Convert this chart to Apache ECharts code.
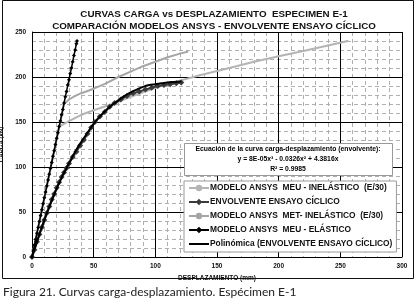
<!DOCTYPE html>
<html>
<head>
<meta charset="utf-8">
<script src="https://cdn.jsdelivr.net/npm/echarts@6/dist/echarts.min.js"></script>
<style>
  html, body { margin: 0; padding: 0; background: #fff; }
  #chart { width: 418px; height: 307px; }
</style>
</head>
<body>
<div id="chart"></div>
<script>
// datos (desplazamiento mm, carga kN)
const meuInelastico = [[0, 0], [22, 145], [30, 151], [40, 158], [50, 163], [65, 170], [80, 178], [100, 188], [120, 196], [136, 202], [160, 210], [180, 217], [200, 223], [220, 229], [240, 235], [256, 240]]
const metInelastico = [[0, 0], [26, 170], [30, 175], [35, 179], [40, 182], [50, 187], [60, 193], [70, 200], [80, 206], [90, 212], [100, 217], [110, 222], [120, 226], [126, 228]]
const envolvente = [[0, 0], [2, 8], [4, 17], [6, 25], [8, 33], [10, 41], [12, 49], [14, 56], [16, 64], [18, 70], [20, 77], [22, 83], [24, 89], [26, 94], [28, 99], [30, 104], [33, 111], [36, 117], [39, 124], [42, 130], [45, 137], [48, 144], [51, 150], [55, 156], [59, 161], [63, 167], [67, 171], [72, 175], [77, 179], [82, 182], [87, 184], [92, 186], [97, 188], [102, 190], [107, 191], [112, 192], [117, 193], [121, 194]]
const meuElastico = [[0, 0], [1, 6.6], [2, 13.2], [3, 19.7], [4, 26.3], [5, 32.9], [6, 39.5], [7, 46], [8, 52.6], [9, 59.2], [10, 65.8], [11, 72.3], [12, 79], [13, 85.5], [14, 92], [15, 98.6], [16, 105], [17, 112], [18, 118], [19, 125], [20, 132], [21, 138], [22, 145], [23, 151], [24, 158], [25, 164], [26, 171], [27, 178], [28, 184], [29, 191], [30, 197], [31, 204], [32, 210], [33, 217], [34, 224], [35, 230], [36, 237], [36.5, 240]]
const polinomica = [[0, 0], [5, 21], [10, 41], [15, 59], [20, 76], [25, 91], [30, 104], [35, 117], [40, 128], [45, 138], [50, 148], [55, 156], [60, 163], [65, 169], [70, 174], [75, 179], [80, 183], [85, 186], [90, 189], [95, 191], [100, 192], [105, 193], [110, 194], [115, 194.5], [121, 195]]
const seriesNames = [
  'MODELO ANSYS  MEU - INELÁSTICO  (E/30)',
  'ENVOLVENTE ENSAYO CÍCLICO',
  'MODELO ANSYS  MET- INELÁSTICO  (E/30)',
  'MODELO ANSYS  MEU - ELÁSTICO',
  'Polinómica (ENVOLVENTE ENSAYO CÍCLICO)'
]
const ecuacion = [
  'Ecuación de la curva carga-desplazamiento (envolvente):',
  'y = 8E-05x³ - 0.0326x² + 4.3816x',
  'R² = 0.9985'
]

const myChart = echarts.init(document.getElementById('chart'))
const font = 'Arial, "Liberation Sans", sans-serif'

// ejes auxiliares solo para la rejilla punteada cada 10
const minorAxis = {
  type: 'value',
  axisLine: { show: false },
  axisTick: { show: false },
  axisLabel: { show: false },
  splitLine: { show: true, lineStyle: { color: '#b0b0b0', width: 1, type: [4, 3] } }
}

const eqText = (txt, y) => ({
  type: 'text',
  x: 288,
  y: y,
  z: 101,
  style: { text: txt, align: 'center', font: 'bold 6.8px Arial', fill: '#000' }
})

myChart.setOption({
  animation: false,
  textStyle: { fontFamily: font },
  title: {
    text: 'CURVAS CARGA vs DESPLAZAMIENTO  ESPECIMEN E-1\nCOMPARACIÓN MODELOS ANSYS - ENVOLVENTE ENSAYO CÍCLICO',
    left: 209,
    top: 3,
    textAlign: 'center',
    textStyle: { fontSize: 9.8, fontWeight: 'bold', color: '#111', lineHeight: 12 }
  },
  grid: { left: 32, right: 16, top: 32, bottom: 50, outerBoundsMode: 'none', containLabel: false },
  legend: {
    orient: 'vertical',
    left: 184,
    top: 181,
    width: 208,
    padding: [3, 4, 4, 4],
    itemGap: 6,
    itemWidth: 20,
    itemHeight: 8,
    backgroundColor: '#fff',
    borderColor: '#999',
    borderWidth: 1,
    data: [
      { name: seriesNames[0] },
      { name: seriesNames[1] },
      { name: seriesNames[2] },
      { name: seriesNames[3] },
      { name: seriesNames[4], itemStyle: { opacity: 0 } }
    ],
    textStyle: { fontSize: 8.4, fontWeight: 'bold', color: '#111', padding: [0, 0, 0, -4] }
  },
  xAxis: [
    {
      type: 'value',
      min: 0,
      max: 300,
      interval: 50,
      name: 'DESPLAZAMIENTO (mm)',
      nameLocation: 'middle',
      nameGap: 17,
      nameTextStyle: { fontSize: 6.5, fontWeight: 'bold', color: '#111' },
      axisLine: { lineStyle: { color: '#000', width: 1 } },
      axisTick: { show: false },
      axisLabel: { fontSize: 6.5, fontWeight: 'bold', color: '#111', margin: 6 },
      splitLine: { lineStyle: { color: '#000', width: 1 } },
      z: 1
    },
    Object.assign({}, minorAxis, { min: 0, max: 300, interval: 10 })
  ],
  yAxis: [
    {
      type: 'value',
      min: 0,
      max: 250,
      interval: 50,
      name: 'CARGA (kN)',
      nameLocation: 'middle',
      nameRotate: 90,
      nameGap: 20,
      nameTextStyle: { fontSize: 6, fontWeight: 'bold', color: '#111' },
      axisLine: { show: true, lineStyle: { color: '#000', width: 1 } },
      axisTick: { show: false },
      axisLabel: { fontSize: 6.5, fontWeight: 'bold', color: '#111', margin: 6 },
      splitLine: { lineStyle: { color: '#000', width: 1 } },
      z: 1
    },
    Object.assign({}, minorAxis, { min: 0, max: 250, interval: 10 })
  ],
  graphic: [
    // marco exterior
    {
      type: 'rect',
      shape: { x: 2.5, y: 0.5, width: 411, height: 278 },
      style: { fill: null, stroke: '#111', lineWidth: 1 },
      silent: true
    },
    // cuadro de la ecuación
    {
      type: 'rect',
      z: 100,
      shape: { x: 184.5, y: 143.5, width: 208, height: 32 },
      style: { fill: '#fff', stroke: '#999', lineWidth: 1 }
    },
    eqText(ecuacion[0], 146),
    eqText(ecuacion[1], 156),
    eqText(ecuacion[2], 166),
    // pie de figura
    {
      type: 'text',
      left: 3,
      top: 286,
      style: { text: 'Figura 21. Curvas carga-desplazamiento. Espécimen E-1', fontSize: 12, fontFamily: 'Lato, sans-serif', fill: '#222' }
    }
  ],
  series: [
    {
      name: seriesNames[0],
      type: 'line',
      data: meuInelastico,
      color: '#b4b4b4',
      lineStyle: { width: 2 },
      symbol: 'circle',
      symbolSize: 2,
      z: 2
    },
    {
      name: seriesNames[1],
      type: 'line',
      data: envolvente,
      color: '#3a3a3a',
      lineStyle: { width: 2 },
      symbol: 'diamond',
      symbolSize: 6,
      z: 4
    },
    {
      name: seriesNames[2],
      type: 'line',
      data: metInelastico,
      color: '#a6a6a6',
      lineStyle: { width: 2 },
      symbol: 'circle',
      symbolSize: 2,
      z: 3
    },
    {
      name: seriesNames[3],
      type: 'line',
      data: meuElastico,
      color: '#000',
      lineStyle: { width: 1.5 },
      symbol: 'diamond',
      symbolSize: 4,
      z: 5
    },
    {
      name: seriesNames[4],
      type: 'line',
      data: polinomica,
      color: '#000',
      lineStyle: { width: 2 },
      symbol: 'none',
      smooth: true,
      z: 6
    }
  ]
})
</script>
</body>
</html>
